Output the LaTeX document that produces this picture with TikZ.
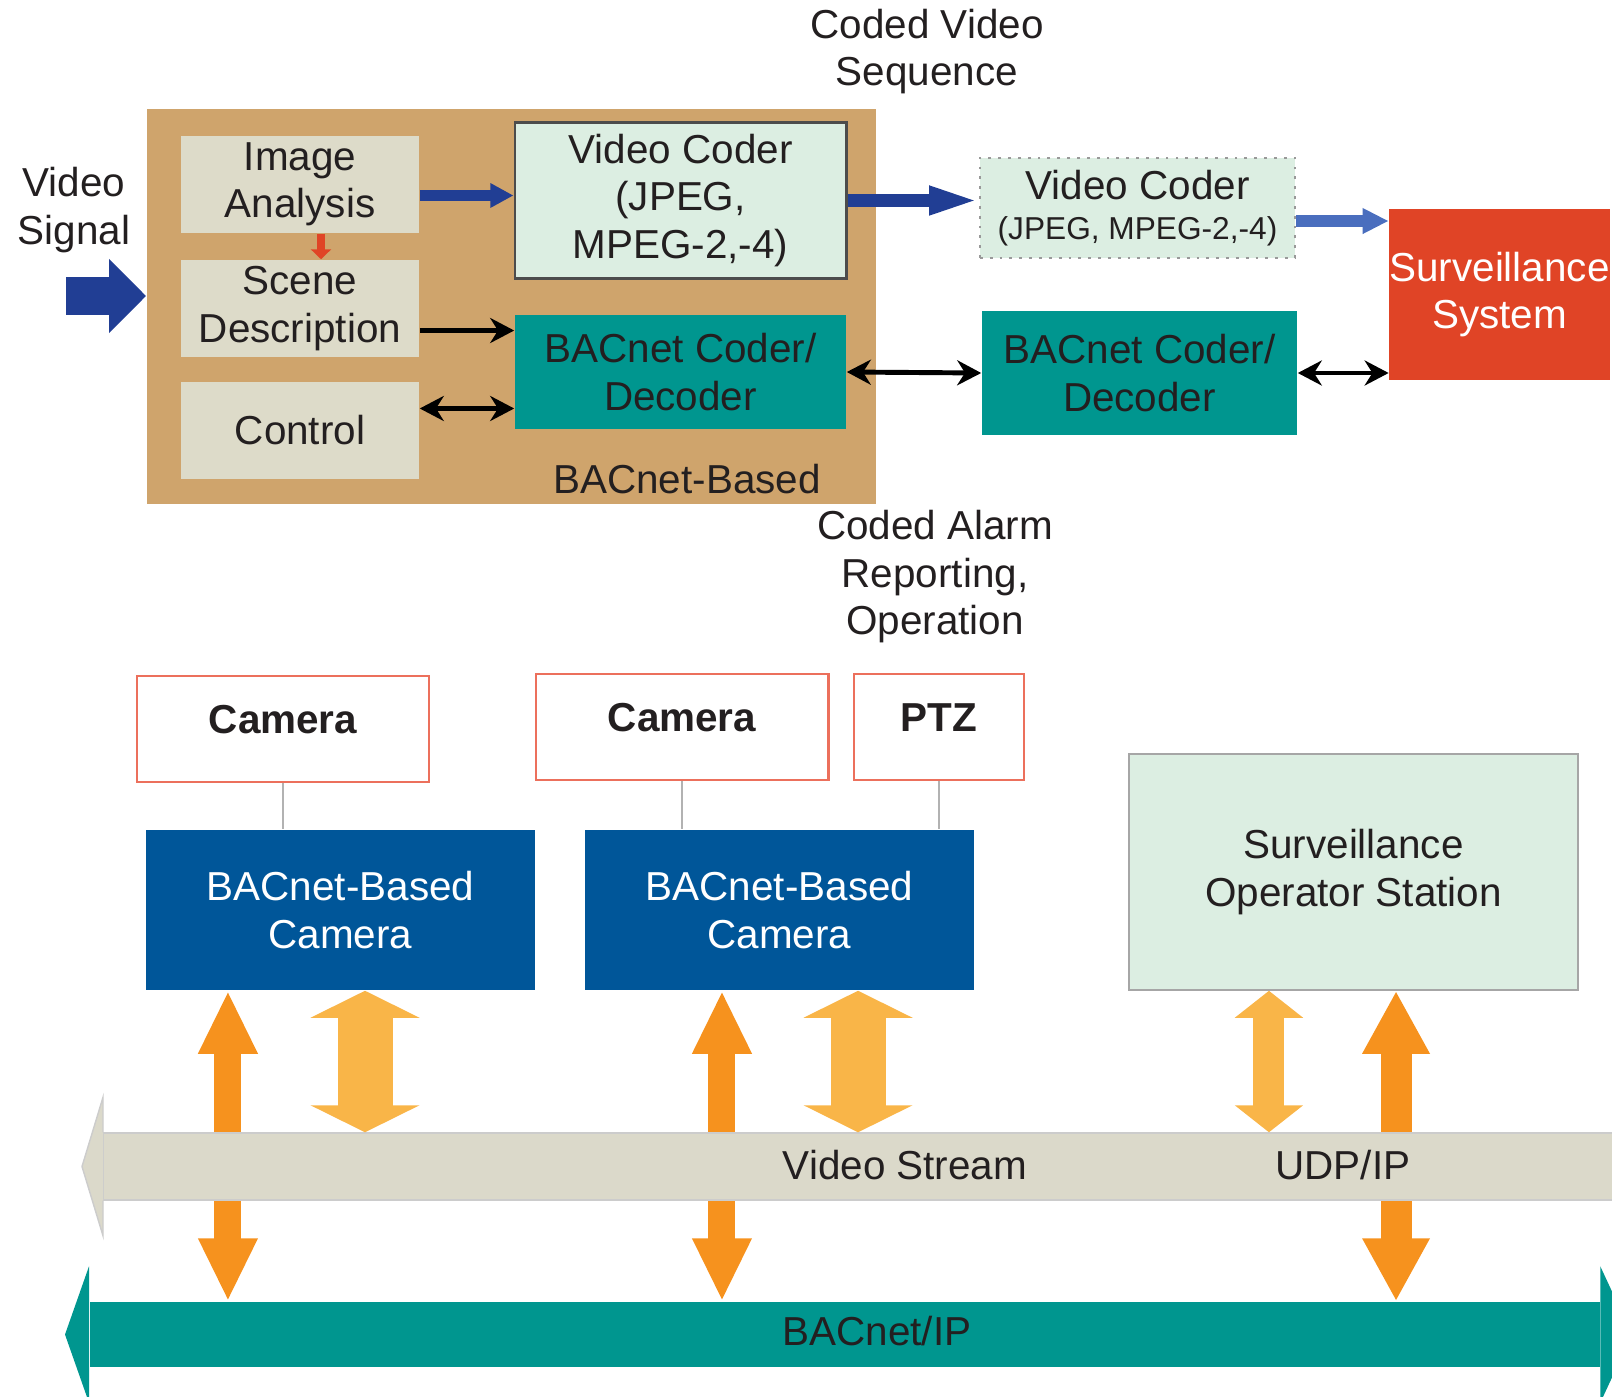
\documentclass[tikz,border=0pt]{standalone}
\usepackage{fontspec}
\setmainfont{Liberation Sans}
\usepackage{xcolor}
\usepackage{tikz}
\usetikzlibrary{arrows.meta, calc, backgrounds}
\definecolor{brownbg}{RGB}{207,164,108}
\definecolor{paleboxfill}{RGB}{221,219,201}
\definecolor{mintfill}{RGB}{220,238,226}
\definecolor{tealfill}{RGB}{0,150,143}
\definecolor{darkblue}{RGB}{33,62,148}
\definecolor{lightblue}{RGB}{74,110,190}
\definecolor{alarmred}{RGB}{224,68,38}
\definecolor{camborder}{RGB}{236,112,92}
\definecolor{camblue}{RGB}{0,86,153}
\definecolor{darkorange}{RGB}{246,146,30}
\definecolor{lightorange}{RGB}{249,181,72}
\definecolor{bandfill}{RGB}{219,217,202}
\definecolor{inktext}{RGB}{35,31,32}
\newcommand{\diagfont}{\fontsize{11.5}{13.5}\selectfont}
\tikzstyle{cambase} = [rectangle, fill=brownbg, minimum width=7.29cm, minimum height=3.95cm]
\tikzstyle{module} = [rectangle, fill=paleboxfill, minimum width=2.38cm, minimum height=0.97cm, inner ysep=0pt, align=center]
\tikzstyle{coder} = [rectangle, fill=mintfill, draw=black!70, line width=0.8pt, align=center]
\tikzstyle{bacnet} = [rectangle, fill=tealfill, align=center]
\tikzstyle{system} = [rectangle, fill=alarmred, text=white, align=center, inner xsep=0pt, minimum width=2.19cm, minimum height=1.71cm]
\tikzstyle{device} = [rectangle, draw=camborder, line width=0.8pt, fill=white, minimum height=1.06cm, inner ysep=0pt, text height=0.57cm, text depth=0.49cm, font=\diagfont\bfseries]
\tikzstyle{camera} = [rectangle, fill=camblue, text=white, align=center, minimum width=3.89cm, minimum height=1.6cm]
\tikzstyle{station} = [rectangle, fill=mintfill, draw=black!35, align=center, minimum width=4.49cm, minimum height=2.36cm]
\tikzstyle{streamband} = [rectangle, fill=bandfill, draw=black!20, anchor=west, minimum height=0.67cm]
\tikzstyle{ipband} = [rectangle, fill=tealfill, anchor=west, minimum height=0.65cm]
\tikzstyle{tie} = [black!30, line width=0.6pt]
\tikzstyle{sigarrow} = [darkblue, line width=0.37cm, -{Triangle[length=0.37cm, width=0.72cm]}]
\tikzstyle{bluearrow} = [darkblue, line width=0.11cm, -{Triangle[length=0.23cm, width=0.23cm]}]
\tikzstyle{longbluearrow} = [darkblue, line width=0.12cm, -{Triangle[length=0.5cm, width=0.26cm]}]
\tikzstyle{palebluearrow} = [lightblue, line width=0.12cm, -{Triangle[length=0.26cm, width=0.24cm]}]
\tikzstyle{redarrow} = [alarmred, line width=0.08cm, -{Triangle[length=0.1cm, width=0.2cm]}]
\tikzstyle{linkarrow} = [line width=1.4pt, -{Stealth[length=0.24cm, width=0.25cm]}]
\tikzstyle{biarrow} = [line width=1.4pt, {Stealth[length=0.24cm, width=0.25cm]}-{Stealth[length=0.24cm, width=0.25cm]}]
\tikzstyle{feedarrow} = [darkorange, line width=0.27cm, {Triangle[length=0.63cm, width=0.55cm]}-{Triangle[length=0.63cm, width=0.55cm]}]
\tikzstyle{wideflow} = [lightorange, line width=0.55cm, {Triangle[length=0.27cm, width=1.08cm]}-{Triangle[length=0.27cm, width=1.08cm]}]
\tikzstyle{narrowflow} = [lightorange, line width=0.31cm, {Triangle[length=0.27cm, width=0.67cm]}-{Triangle[length=0.27cm, width=0.67cm]}]

\begin{document}
\begin{tikzpicture}[x=0.01cm, y=-0.01cm, font=\diagfont, text=inktext]
\useasboundingbox (0,0) rectangle (1612,1397);
\clip (0,0) rectangle (1612,1397);

\node (base) [cambase] at (511.5,306.5) {};
\node (analysis) [module] at (300,184.5) {Image\\Analysis};
\node (scene) [module] at (300,308.5) {Scene\\Description};
\node (control) [module] at (300,430.5) {Control};
\node (coderin) [coder, minimum width=3.31cm, minimum height=1.55cm] at (680.5,200.5) {Video Coder\\(JPEG,\\MPEG-2,-4)};
\node (bacin) [bacnet, minimum width=3.31cm, minimum height=1.14cm] at (680.5,372) {BACnet Coder/\\Decoder};
\node (based) at (687,479) {BACnet-Based};
\node (signal) [align=center] at (74,210) {Video\\Signal};
\node (sequence) [align=center] at (927,51.5) {Coded Video\\Sequence};
\node (coderout) [coder, draw=black!40, dotted, line width=0.5pt, minimum width=3.15cm, minimum height=0.98cm] at (1137.5,208) {Video Coder\\[-2pt]{\fontsize{9}{11}\selectfont(JPEG, MPEG-2,-4)}};
\node (bacout) [bacnet, minimum width=3.15cm, minimum height=1.24cm] at (1139.5,373) {BACnet Coder/\\Decoder};
\node (surveil) [system] at (1499.5,294.5) {Surveillance\\System};
\node (alarm) [align=center] at (935,577) {Coded Alarm\\Reporting,\\Operation};

\coordinate (sigstart) at (66,296);
\draw [sigarrow] (sigstart) -- (sigstart -| base.west);
\draw [bluearrow] ([yshift=0.05cm]analysis.east |- coderin.west) -- ([yshift=0.05cm]coderin.west);
\draw [redarrow] ([xshift=0.21cm]analysis.south) -- ([xshift=0.21cm]scene.north);
\draw [linkarrow] ([yshift=-0.22cm]scene.east) -- ([yshift=-0.22cm]scene.east -| bacin.west);
\draw [biarrow] ([yshift=0.22cm]control.east) -- ([yshift=0.22cm]control.east -| bacin.west);
\draw [longbluearrow] (coderin.east) -- (coderin.east -| coderout.west);
\draw [palebluearrow] ([yshift=-0.13cm]coderout.east) -- ([yshift=-0.13cm]coderout.east -| surveil.west);
\draw [biarrow] (bacin.east) -- (bacout.west);
\draw [biarrow] (bacout.east) -- (bacout.east -| surveil.west);

\node (cam1) [device, minimum width=2.92cm] at (283,729) {Camera};
\node (cam2) [device, minimum width=2.92cm] at (682,727) {Camera};
\node (ptz) [device, minimum width=1.70cm] at (939,727) {PTZ};
\node (bcam1) [camera] at (340.5,910) {BACnet-Based\\Camera};
\node (bcam2) [camera] at (779.5,910) {BACnet-Based\\Camera};
\node (station) [station] at (1353.5,872) {Surveillance\\Operator Station};

\draw [tie] (cam1.south) -- (cam1.south |- bcam1.north);
\draw [tie] (cam2.south) -- (cam2.south |- bcam2.north);
\draw [tie] (ptz.south) -- (ptz.south |- bcam2.north);

\node (stream) [streamband, minimum width=15.5cm] at (103,1166.5) {};
\fill [bandfill] (stream.north west) -- ++(0,-35) -- (82,1166.5) -- ($(stream.south west)+(0,35)$) -- (stream.south west) -- cycle;
\draw [black!20] (stream.north west) -- ++(0,-35) -- (82,1166.5) -- ($(stream.south west)+(0,35)$) -- (stream.south west);
\node (bacip) [ipband, minimum width=15.09cm] at (89,1334.5) {};
\fill [tealfill] (bacip.north west) -- ++(0,-35) -- (65,1334.5) -- ($(bacip.south west)+(0,35)$) -- (bacip.south west) -- cycle;
\fill [tealfill] (bacip.north east) -- ++(0,-35) -- (1632,1334.5) -- ($(bacip.south east)+(0,35)$) -- (bacip.south east) -- cycle;
\node (streamlabel) at (905,1165) {Video Stream};
\node (udplabel) at (1343,1165) {UDP/IP};
\node (iplabel) at (877,1331) {BACnet/IP};

\begin{scope}[on background layer]
\draw [feedarrow] ([xshift=-1.125cm]bcam1.south) -- ([xshift=-1.125cm]bcam1.south |- bacip.north);
\draw [feedarrow] ([xshift=-0.575cm]bcam2.south) -- ([xshift=-0.575cm]bcam2.south |- bacip.north);
\draw [feedarrow, line width=0.31cm, {Triangle[length=0.63cm, width=0.63cm]}-{Triangle[length=0.63cm, width=0.63cm]}] ([xshift=0.425cm]station.south) -- ([xshift=0.425cm]station.south |- bacip.north);
\end{scope}
\draw [wideflow] ([xshift=0.245cm]bcam1.south) -- ([xshift=0.245cm]bcam1.south |- stream.north);
\draw [wideflow] ([xshift=0.785cm]bcam2.south) -- ([xshift=0.785cm]bcam2.south |- stream.north);
\draw [narrowflow] ([xshift=-0.845cm]station.south) -- ([xshift=-0.845cm]station.south |- stream.north);
\end{tikzpicture}
\end{document}
